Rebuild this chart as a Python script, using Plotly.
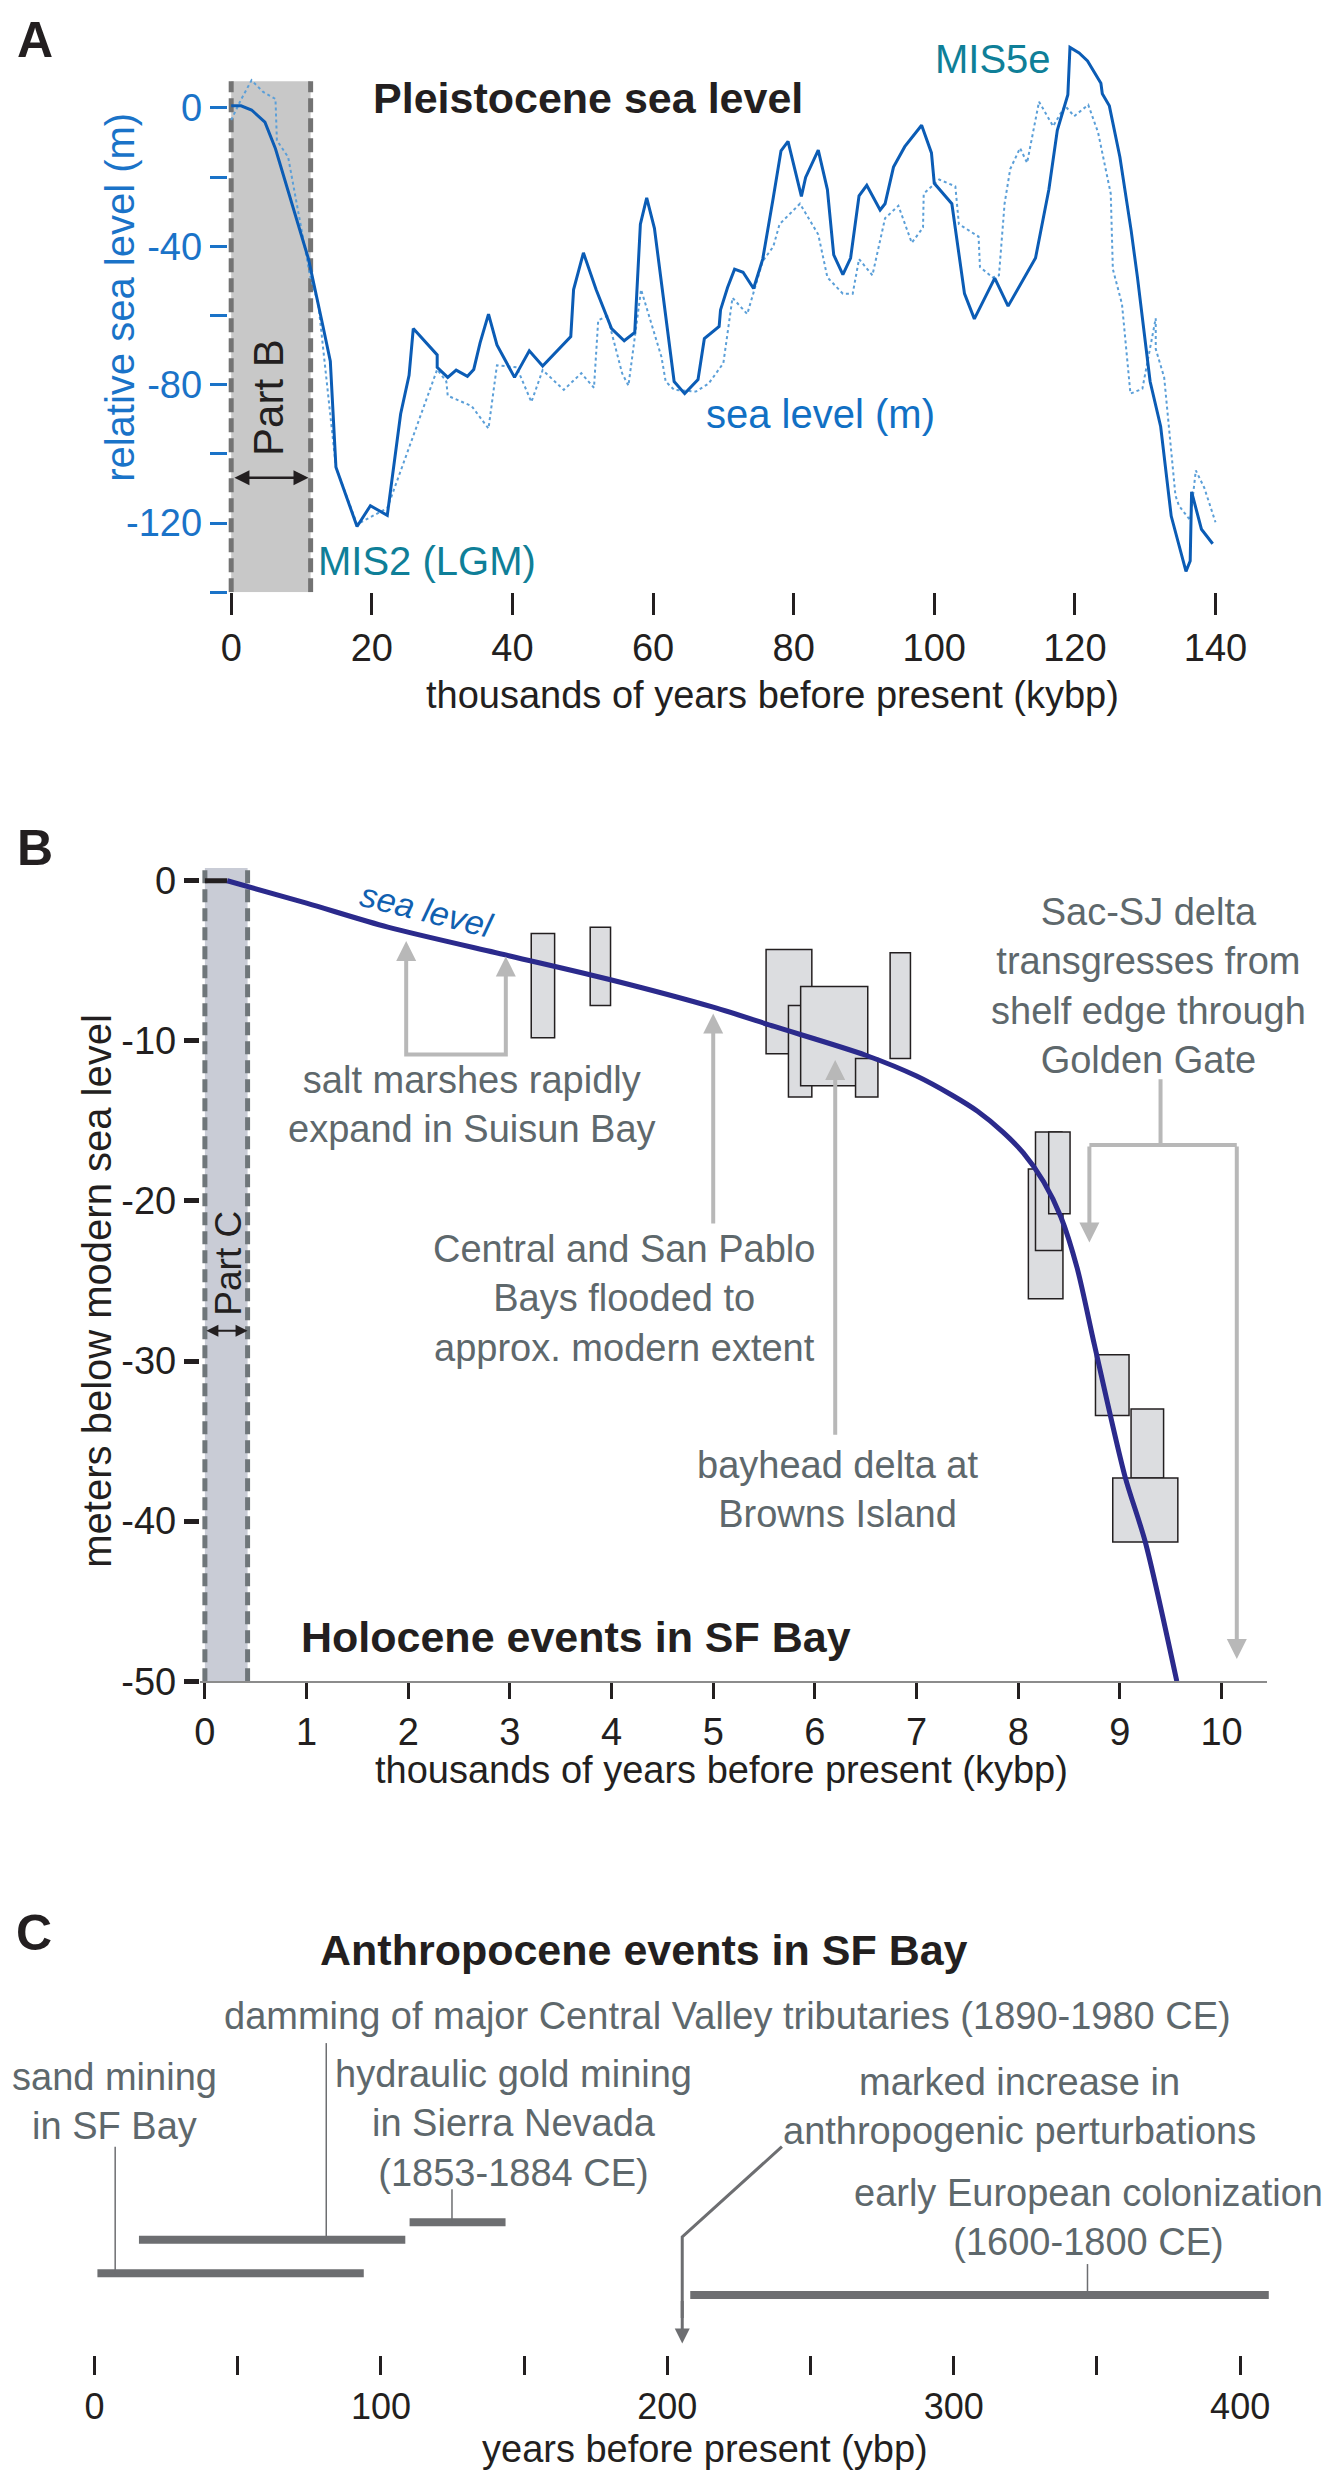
import plotly.graph_objects as go

W, H = 1336, 2480
FONT = "Liberation Sans, Arial, Helvetica, sans-serif"
INK = "#231f20"
NOTE = "#5e686c"

# ---- Panel A: Pleistocene sea level (kybp, m)
solid_x = [0, 1.4, 2.9, 4.8, 6.3, 11.0, 13.0, 14.1, 14.9, 17.9, 19.8, 22.2, 24.1, 25.3, 25.9, 29.3, 29.3,
           30.8, 32.0, 33.6, 34.5, 35.4, 36.6, 37.8, 40.3, 42.4, 44.3, 45.8, 48.3, 48.7, 50.1, 51.9, 54.1,
           55.9, 57.4, 58.2, 59.1, 60.2, 62.2, 63.0, 64.5, 66.4, 67.3, 69.4, 69.6, 70.6, 71.6, 72.8, 74.3,
           75.6, 77.1, 78.2, 79.2, 81.1, 81.7, 83.5, 84.8, 85.7, 87.0, 88.1, 89.3, 90.4, 92.3, 93.0, 94.2,
           95.8, 98.2, 99.6, 100.0, 102.5, 104.3, 105.7, 108.6, 110.5, 114.4, 116.3, 117.5, 119.0, 119.3,
           120.6, 121.8, 123.0, 123.7, 123.9, 124.9, 126.4, 128.0, 128.9, 130.7, 132.2, 133.7, 135.8,
           136.4, 136.6, 137.4, 138.0, 139.6]
solid_y = [0.6, 0.6, -0.6, -4.1, -11.8, -43.7, -62.6, -73.2, -103.9, -121, -115, -117.8, -88.5, -77.3,
           -63.8, -71.4, -75, -77.9, -75.8, -77.6, -75.6, -67.9, -59.6, -68.5, -77.9, -70.2, -74.6, -71.4,
           -66.1, -52.5, -41.9, -52.5, -63.8, -67.3, -64.9, -33.6, -26, -34.8, -66.1, -79.1, -82.6, -78.5,
           -66.7, -63.2, -58.4, -51.9, -46.6, -47.5, -52.2, -43.7, -26, -12.4, -9.7, -25.6, -20.1, -12.2,
           -23.6, -42.5, -48.2, -43.4, -25.4, -22.4, -29.5, -27.7, -17.1, -11.2, -5.0, -13.0, -21.8, -27.7,
           -53.7, -61, -49.2, -57.3, -43.4, -23.6, -6.5, 3.8, 17.5, 15.9, 13.6, 9.4, 7.1, 4.1, 0.6, -14.2,
           -35.4, -49, -79.1, -92.1, -118, -134, -131, -111, -116.9, -121.8, -126]
dot_x = [0, 1.4, 2.9, 4.5, 6.3, 6.5, 8.1, 11.2, 12.4, 14.9, 17.9, 22.2, 29.3, 30.6, 30.8, 34.2, 36.6,
         37.8, 40.6, 42.7, 44.3, 47.3, 49.8, 51.6, 52.2, 53.5, 55.6, 56.5, 58.3, 61.2, 61.8, 63.0, 66.1,
         67.9, 70.0, 71.3, 73.4, 74.4, 75.6, 77.1, 78.0, 80.9, 83.5, 84.8, 87.0, 88.4, 89.3, 91.2, 93.0,
         94.9, 96.8, 98.4, 98.5, 100.7, 103.0, 103.5, 106.3, 106.5, 108.3, 109.2, 110.0, 110.8, 112.2,
         113.2, 114.9, 116.9, 118.6, 119.9, 121.9, 123.3, 125.1, 125.4, 126.7, 127.9, 129.6, 131.5,
         131.5, 132.7, 134.3, 134.8, 136.4, 137.2, 138.4, 140.0]
dot_y = [-3.5, 2.4, 8.0, 4.7, 2.6, -9.4, -14.2, -48.4, -56.7, -103.9, -120.4, -115.7, -75.6, -79.1,
         -83.2, -86.2, -92.7, -74.4, -75, -85, -75.8, -81.5, -76.7, -80.9, -61.4, -60.2, -76.7, -80.3,
         -52.5, -72, -79.1, -81.5, -82, -79.7, -73.8, -54.9, -59.6, -52.5, -44.3, -40.1, -33.6, -27.7,
         -36.6, -49, -53.7, -53.7, -43.7, -48.4, -31.9, -28.3, -39, -34.6, -24.8, -20.7, -22.7, -33.6,
         -37.2, -46, -49, -48.4, -27.7, -17.7, -11.6, -15.9, 1.8, -5.3, 0.6, -2.4, 0.9, -7.1, -24.8,
         -46.6, -56.7, -82.6, -81.2, -60.8, -69.7, -77.9, -112, -115, -119.2, -104.8, -109.8, -119.8]
a_xticks = [0, 20, 40, 60, 80, 100, 120, 140]
a_yticks = [0, -20, -40, -60, -80, -100, -120, -140]
a_ylabels = ["0", "", "-40", "", "-80", "", "-120", ""]
part_b = [0, 11.3]          # kybp

# ---- Panel B: Holocene sea level (kybp, m) and dated samples
hol_x = [0.22, 1.0, 1.8, 3.0, 4.0, 5.0, 5.6, 6.5, 7.0, 7.35, 7.6, 7.85, 8.05, 8.25, 8.42, 8.58, 8.75,
         9.05, 9.25, 9.56]
hol_y = [0.0, -1.4, -2.9, -4.7, -6.2, -7.9, -9.1, -10.9, -12.2, -13.4, -14.4, -15.7, -17.0, -18.8,
         -21.0, -24.2, -29.0, -37.2, -41.3, -50]
box_x0 = [3.21, 3.79, 5.52, 5.74, 5.86, 6.40, 6.74, 8.10, 8.17, 8.30, 8.76, 9.11, 8.93]
box_x1 = [3.44, 3.99, 5.97, 5.97, 6.52, 6.62, 6.94, 8.44, 8.43, 8.51, 9.09, 9.43, 9.57]
box_top = [-3.3, -2.9, -4.3, -7.8, -6.6, -11.1, -4.5, -18.0, -15.7, -15.7, -29.6, -33.0, -37.3]
box_bot = [-9.8, -7.8, -10.8, -13.5, -12.8, -13.5, -11.1, -26.1, -23.1, -20.8, -33.4, -37.3, -41.3]
b_ticks = list(range(0, 11))
b_yticks = [0, -10, -20, -30, -40, -50]
b_ylabels = ["0", "-10", "-20", "-30", "-40", "-50"]
part_c = [0, 0.42]          # kybp

# ---- Panel C: Anthropocene events (ybp)
ev_start = [1, 15.5, 110, 208]
ev_end = [94, 108.5, 143.5, 410]
ev_lane = [2.2, 3.1, 3.57, 1.62]
c_ticks = [0, 50, 100, 150, 200, 250, 300, 350, 400]
c_labels = ["0", "", "100", "", "200", "", "300", "", "400"]


def px(x):
    return x / W


def py(y):
    return 1 - y / H


fig = go.Figure()

# panel A
fig.add_trace(go.Scatter(x=dot_x, y=dot_y, mode="lines", xaxis="x", yaxis="y",
                         line=dict(color="#5b9fd8", width=2, dash="dot"), showlegend=False))
fig.add_trace(go.Scatter(x=solid_x, y=solid_y, mode="lines", xaxis="x", yaxis="y",
                         line=dict(color="#0b5cb5", width=3), showlegend=False))

# panel B
fig.add_trace(go.Scatter(x=[0, hol_x[0]], y=[0, hol_y[0]], mode="lines", xaxis="x2", yaxis="y2",
                         line=dict(color=INK, width=5), showlegend=False))
fig.add_trace(go.Scatter(x=hol_x, y=hol_y, mode="lines", xaxis="x2", yaxis="y2",
                         line=dict(color="#2b2a8c", width=5, shape="spline", smoothing=0.8),
                         showlegend=False))

# panel C bars
bx, by = [], []
for s, e, l in zip(ev_start, ev_end, ev_lane):
    bx += [s, e, None]
    by += [l, l, None]
fig.add_trace(go.Scatter(x=bx, y=by, mode="lines", xaxis="x3", yaxis="y3",
                         line=dict(color="#6d6e71", width=8), showlegend=False))

shapes = []
# shaded windows
shapes.append(dict(type="rect", xref="x", yref="y", x0=part_b[0], x1=part_b[1], y0=-140, y1=7.7,
                   fillcolor="#c8c8c8", line=dict(width=0), layer="below"))
for xv in part_b:
    shapes.append(dict(type="line", xref="x", yref="y", x0=xv, x1=xv, y0=-140, y1=7.7, layer="below",
                       line=dict(color="#737373", width=5, dash="14px,6px")))
shapes.append(dict(type="rect", xref="x2", yref="y2", x0=part_c[0], x1=part_c[1], y0=-50, y1=0.8,
                   fillcolor="#c9ccd6", line=dict(width=0), layer="below"))
for xv in part_c:
    shapes.append(dict(type="line", xref="x2", yref="y2", x0=xv, x1=xv, y0=-50, y1=0.8, layer="below",
                       line=dict(color="#6f767a", width=5, dash="13px,6px")))
# dated sample boxes
for x0, x1, t, b in zip(box_x0, box_x1, box_top, box_bot):
    shapes.append(dict(type="rect", xref="x2", yref="y2", x0=x0, x1=x1, y0=b, y1=t, layer="below",
                       fillcolor="#dcdde0", line=dict(color=INK, width=1.5)))

# grey connector lines in B
GREY = "#b8b8b8"
for seg in [([1.98, 1.98, 2.96, 2.96], [-4.5, -10.86, -10.86, -5.4]),
            ([9.40, 9.40], [-12.4, -16.5]),
            ([8.70, 10.15], [-16.5, -16.5])]:
    fig.add_trace(go.Scatter(x=seg[0], y=seg[1], mode="lines", xaxis="x2", yaxis="y2",
                             line=dict(color=GREY, width=4), showlegend=False))

# leader lines in C
for lx, ly0, ly1 in [(7.2, 5.6, 2.2), (80.9, 8.38, 3.1), (124.8, 4.46, 3.57), (346.7, 2.45, 1.62)]:
    fig.add_trace(go.Scatter(x=[lx, lx], y=[ly0, ly1], mode="lines", xaxis="x3", yaxis="y3",
                             line=dict(color="#6d6e71", width=1.5), showlegend=False))
fig.add_trace(go.Scatter(x=[240, 205.2, 205.2], y=[5.6, 3.18, 1.0], mode="lines", xaxis="x3", yaxis="y3",
                         line=dict(color="#6d6e71", width=3), showlegend=False))

ann = []


def text(x, y, s, size, color=INK, ref=("paper", "paper"), angle=0, align="center"):
    ann.append(dict(x=x, y=y, xref=ref[0], yref=ref[1], text=s, showarrow=False, textangle=angle,
                    xanchor="center", yanchor="middle", align=align,
                    font=dict(size=size, color=color, family=FONT)))


def arrow(x, y, ax, ay, ref, color, width, both=False, size=1.0):
    ann.append(dict(x=x, y=y, ax=ax, ay=ay, xref=ref[0], yref=ref[1], axref=ref[0], ayref=ref[1],
                    text="", showarrow=True, arrowhead=2, arrowsize=size, arrowwidth=width,
                    arrowcolor=color, arrowside="end+start" if both else "end", startarrowhead=2,
                    startarrowsize=size, standoff=0, startstandoff=0))


# panel letters and titles
text(px(21), py(24), "<b>A</b>", 50)
text(px(21), py(842), "<b>B</b>", 50)
text(px(19), py(1940), "<b>C</b>", 50)
text(px(588), py(83), "<b>Pleistocene sea level</b>", 43)
text(px(576), py(1640), "<b>Holocene events in SF Bay</b>", 43)
text(px(646), py(1957), "<b>Anthropocene events in SF Bay</b>", 43)

# axis titles
text(px(107), py(285), "relative sea level (m)", 40, color="#1a73c8", angle=-90)
text(px(778), py(687), "thousands of years before present (kybp)", 38)
text(px(84), py(1290), "meters below modern sea level", 40, angle=-90)
text(px(726), py(1775), "thousands of years before present (kybp)", 38)
text(px(709), py(2462), "years before present (ybp)", 38)

# panel A labels
A = ("x", "y")
text(108.4, 14.1, "MIS5e", 40, color="#0f7f98", ref=A)
text(27.9, -131, "MIS2 (LGM)", 40, color="#0f7f98", ref=A)
text(83.8, -88.4, "sea level (m)", 40, color="#1170c4", ref=A)
text(5.3, -83.7, "Part B", 42, ref=A, angle=-90)
arrow(11.0, -106.9, 0.25, -106.9, A, INK, 2.5, both=True, size=1.2)

# panel B labels
B = ("x2", "y2")
text(2.18, -1.85, "<i>sea level</i>", 34, color="#1060b0", ref=B, angle=14)
text(0.23, -23.9, "Part C", 37, ref=B, angle=-90)
arrow(0.42, -28.1, 0.0, -28.1, B, INK, 2, both=True, size=1.2)
text(2.63, -14.0, "salt marshes rapidly<br>expand in Suisun Bay", 38, color=NOTE, ref=B)
text(4.12, -26.1, "Central and San Pablo<br>Bays flooded to<br>approx. modern extent", 38,
     color=NOTE, ref=B)
text(6.22, -38.0, "bayhead delta at<br>Browns Island", 38, color=NOTE, ref=B)
text(9.28, -6.6, "Sac-SJ delta<br>transgresses from<br>shelf edge through<br>Golden Gate", 38,
     color=NOTE, ref=B)
arrow(1.98, -3.77, 1.98, -5.0, B, GREY, 4)
arrow(2.96, -4.73, 2.96, -6.0, B, GREY, 4)
arrow(5.0, -8.3, 5.0, -21.5, B, GREY, 4)
arrow(6.2, -11.2, 6.2, -34.7, B, GREY, 4)
arrow(8.70, -22.6, 8.70, -16.5, B, GREY, 4)
arrow(10.15, -48.6, 10.15, -16.5, B, GREY, 4)

# panel C labels
C = ("x3", "y3")
text(6.8, 6.82, "sand mining<br>in SF Bay", 38, color=NOTE, ref=C)
text(221, 9.1, "damming of major Central Valley tributaries (1890-1980 CE)", 38, color=NOTE, ref=C)
text(146.2, 6.23, "hydraulic gold mining<br>in Sierra Nevada<br>(1853-1884 CE)", 38, color=NOTE, ref=C)
text(323, 6.68, "marked increase in<br>anthropogenic perturbations", 38, color=NOTE, ref=C)
text(347, 3.69, "early European colonization<br>(1600-1800 CE)", 38, color=NOTE, ref=C)
arrow(205.2, 0.32, 205.2, 1.5, C, "#6d6e71", 3)

a_left, a_right = 222 - 0.5 * 7.22, 222 + 140.5 * 7.22
b_left, b_right = 195 - 0.05 * 104.4, 195 + 10.45 * 104.4
c_left, c_right = 81.7 - 20 * 2.941, 81.7 + 425 * 2.941

fig.update_layout(
    width=W, height=H, margin=dict(l=0, r=0, t=0, b=0),
    paper_bgcolor="white", plot_bgcolor="white", showlegend=False,
    font=dict(family=FONT, color=INK),
    shapes=shapes, annotations=ann,
    xaxis=dict(domain=[px(a_left), px(a_right)], range=[-0.5, 140.5], anchor="y",
               tickvals=a_xticks, ticks="outside", ticklen=22, tickwidth=3, tickcolor=INK,
               tickfont=dict(size=38, color=INK), showgrid=False, zeroline=False, showline=False),
    yaxis=dict(domain=[py(583), py(23)], range=[-140, 20], anchor="x",
               tickvals=a_yticks, ticktext=a_ylabels, ticks="outside", ticklen=17, tickwidth=3,
               tickcolor="#1a73c8", tickfont=dict(size=38, color="#1a73c8"),
               showgrid=False, zeroline=False, showline=False),
    xaxis2=dict(domain=[px(b_left), px(b_right)], range=[-0.05, 10.45], anchor="y2",
                tickvals=b_ticks, ticks="outside", ticklen=16, tickwidth=3, tickcolor=INK,
                tickfont=dict(size=38, color=INK), showgrid=False, zeroline=False,
                showline=True, linecolor="#8c8c8c", linewidth=2),
    yaxis2=dict(domain=[py(1685), py(862)], range=[-50, 0.8], anchor="x2",
                tickvals=b_yticks, ticktext=b_ylabels, ticks="outside", ticklen=15, tickwidth=5,
                tickcolor=INK, tickfont=dict(size=38, color=INK), showgrid=False, zeroline=False,
                showline=False),
    xaxis3=dict(domain=[px(c_left), px(c_right)], range=[-20, 425], anchor="y3",
                tickvals=c_ticks, ticktext=c_labels, ticks="outside", ticklen=19, tickwidth=3,
                tickcolor=INK, tickfont=dict(size=36, color=INK), showgrid=False, zeroline=False,
                showline=False),
    yaxis3=dict(domain=[py(2367), py(1990)], range=[0, 10], anchor="x3", visible=False),
)

fig.write_html("out.html")
